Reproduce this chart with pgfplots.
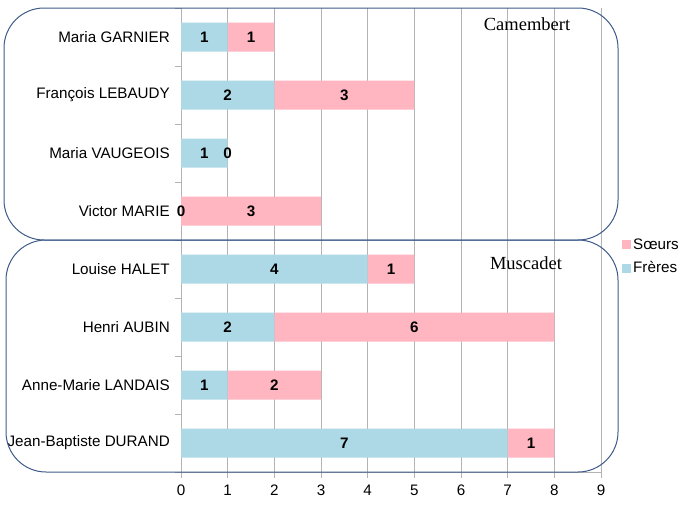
\documentclass[border=0pt]{standalone}
\usepackage{pgfplots}
\pgfplotsset{compat=1.18}
\usepackage{fontspec}
\setmainfont{Liberation Sans}
\newfontfamily\seriffont{Liberation Serif}
\definecolor{frcol}{HTML}{ADD8E6}
\definecolor{socol}{HTML}{FFB6C1}
\definecolor{gridgray}{HTML}{B3B3B3}
\definecolor{boxcol}{HTML}{3E5C8A}
\begin{document}
\begin{tikzpicture}
\fontsize{15.2}{18}\selectfont
\path[use as bounding box] (0pt,0pt) rectangle (695pt,-512pt);
\pgfplotsset{common/.style={
  scale only axis, width=420pt, height=464pt,
  at={(181pt,-472pt)}, anchor=south west,
  xmin=0, xmax=9, ymin=-0.5, ymax=7.5, clip=false}}
\begin{axis}[common,
  axis x line=bottom, axis y line=left,
  axis line style={-, draw=gridgray, line width=1pt},
  xtick={0,...,9}, xmajorgrids=true,
  grid style={draw=gridgray, line width=0.9pt},
  tick align=outside, major tick length=6pt, minor tick length=6pt,
  tick style={draw=gridgray, line width=1pt},
  major y tick style={draw=none},
  ytick={0,...,7},
  yticklabels={Jean-Baptiste DURAND, Anne-Marie LANDAIS, Henri AUBIN, Louise HALET, Victor MARIE, Maria VAUGEOIS, François LEBAUDY, Maria GARNIER},
  minor ytick={-0.5,0.5,...,7.5},
  yticklabel style={font=\fontsize{15.2}{18}\selectfont, inner sep=0pt, xshift=-5pt},
  xticklabel style={font=\fontsize{15.2}{18}\selectfont, yshift=-2pt},
  /pgf/number format/assume math mode=true,
  xbar stacked, bar width=29pt,
  reverse legend,
  legend cell align=left,
  legend style={at={(1.05,0.464)}, anchor=west, draw=none, fill=none,
    inner sep=0pt, row sep=6pt, font=\fontsize{15.2}{18}\selectfont},
  legend image code/.code={\fill[#1] (0pt,-4.5pt) rectangle (9pt,4.5pt);},
]
\addplot[fill=frcol, draw=none] coordinates {(7,0) (1,1) (2,2) (4,3) (0,4) (1,5) (2,6) (1,7)};
\addlegendentry{Frères}
\addplot[fill=socol, draw=none] coordinates {(1,0) (2,1) (6,2) (1,3) (3,4) (0,5) (3,6) (1,7)};
\addlegendentry{Sœurs}
\end{axis}
\begin{axis}[common, hide axis]
\addplot[draw=none, mark=none, nodes near coords, point meta=explicit symbolic,
  nodes near coords align=center,
  every node near coord/.append style={font=\fontsize{15.2}{18}\selectfont\bfseries, text=black, anchor=center}]
  coordinates {
  (0.5,7)[1] (1.5,7)[1]
  (1,6)[2] (3.5,6)[3]
  (0.5,5)[1] (1,5)[0]
  (0,4)[0] (1.5,4)[3]
  (2,3)[4] (4.5,3)[1]
  (1,2)[2] (5,2)[6]
  (0.5,1)[1] (2,1)[2]
  (3.5,0)[7] (7.5,0)[1]
  };
\end{axis}
\draw[boxcol, line width=1pt, rounded corners=40pt] (4pt,-8pt) rectangle (618pt,-240pt);
\draw[boxcol, line width=1pt, rounded corners=40pt] (6pt,-240pt) rectangle (618pt,-472pt);
\node[font=\seriffont\fontsize{18.5}{20}\selectfont] at (527pt,-24pt) {Camembert};
\node[font=\seriffont\fontsize{18.5}{20}\selectfont] at (526pt,-263pt) {Muscadet};
\end{tikzpicture}
\end{document}
